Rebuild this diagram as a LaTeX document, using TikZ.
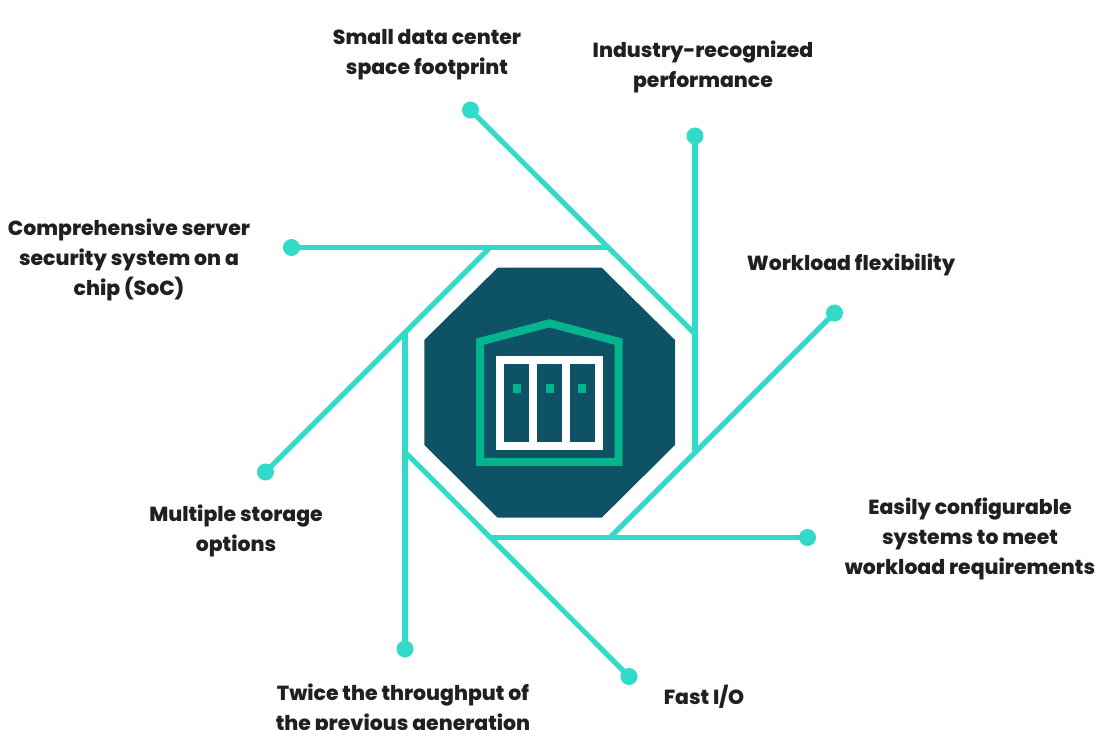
\documentclass[tikz,border=0pt]{standalone}
\usepackage{fontspec}
\setmainfont{Poppins}[BoldFont={Poppins ExtraBold}]
\definecolor{linecol}{HTML}{32DAC8}
\definecolor{octcol}{HTML}{0E5265}
\definecolor{iconcol}{HTML}{05B48C}
\definecolor{textcol}{HTML}{231F20}
\tikzset{
 dotnode/.style={circle, fill=linecol, inner sep=0, minimum size=12.8},
 linkline/.style={linecol, line width=3.8},
 labeltext/.style={align=center, inner sep=0, text=textcol, font=\fontsize{15.3}{22.5}\selectfont\bfseries},
}
\begin{document}
\begin{tikzpicture} [x=.75pt, y=-.75pt]
\useasboundingbox[clip] (0,0) rectangle (1096,730);
\fill[octcol] (497.7,267.7) -- (601.7,267.7) -- (675,340) -- (675,445) -- (601.7,517.7)
 -- (497.7,517.7) -- (424.3,445) -- (424.3,340) -- cycle;
% dots
\node[dotnode] (dotA) at (470.5,110) {};
\node[dotnode] (dotB) at (695,136) {};
\node[dotnode] (dotC) at (834.5,313) {};
\node[dotnode] (dotD) at (807.5,537.5) {};
\node[dotnode] (dotE) at (629,676.5) {};
\node[dotnode] (dotF) at (405,649) {};
\node[dotnode] (dotG) at (265.5,472) {};
\node[dotnode] (dotH) at (291.5,247.5) {};
% inner ends
\coordinate (endA) at (694,333);
\coordinate (endB) at (695,451);
\coordinate (endC) at (610,537.5);
\coordinate (endD) at (491,537.5);
\coordinate (endE) at (405,452);
\coordinate (endF) at (405,334);
\coordinate (endG) at (490,247.5);
\coordinate (endH) at (608,247.5);
\foreach \a in {A,B,C,D,E,F,G,H} {
 \draw[linkline] (dot\a.center) -- (end\a);
}
% icon
\draw[iconcol, line width=6, miter limit=10] (480,462) -- (480,341.7) -- (549.5,323.3) -- (618.7,341.7) -- (618.7,462) -- cycle;
\draw[white, line width=6] (500,360) rectangle (598.7,446);
\foreach \x in {532.8, 565.8} {
 \draw[white, line width=6] (\x,360) --++(0,86);
}
\foreach \x in {517, 549.5, 582} {
 \fill[iconcol] (\x-4,384.2) rectangle (\x+4,392.6);
}
% labels
\node[labeltext] (lblA) at (427,54.5) {Small data center\\space footprint};
\node[labeltext] (lblB) at (703,66.5) {Industry-recognized\\performance};
\node[labeltext] (lblC) at (851,265) {Workload flexibility};
\node[labeltext] (lblD) at (970,539) {Easily configurable\\systems to meet\\workload requirements};
\node[labeltext] (lblE) at (704,697) {Fast I/O};
\node[labeltext] (lblF) at (403,710.5) {Twice the throughput of\\the previous generation};
\node[labeltext] (lblG) at (236,530.5) {Multiple storage\\options};
\node[labeltext] (lblH) at (129,260) {Comprehensive server\\security system on a\\chip (SoC)};
\end{tikzpicture}
\end{document}
